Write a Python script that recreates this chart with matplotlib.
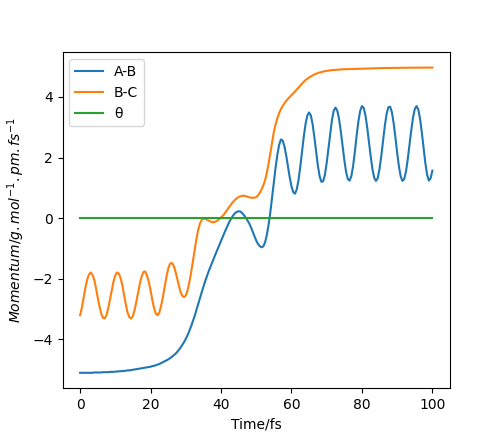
import numpy as np
import matplotlib
matplotlib.use("Agg")
import matplotlib.pyplot as plt

# time grid (fs), 0.5 fs spacing
time = np.arange(0, 100.001, 0.5)

ab = [
    -5.10, -5.10, -5.10, -5.10, -5.10, -5.10, -5.10, -5.10, -5.09, -5.09,   # 0-4.5
    -5.09, -5.09, -5.09, -5.08, -5.08, -5.08, -5.08, -5.07, -5.07, -5.07,   # 5-9.5
    -5.06, -5.06, -5.05, -5.05, -5.04, -5.04, -5.03, -5.02, -5.02, -5.01,   # 10-14.5
    -5.00, -4.99, -4.98, -4.97, -4.96, -4.95, -4.94, -4.93, -4.92, -4.91,   # 15-19.5
    -4.90, -4.88, -4.87, -4.85, -4.83, -4.81, -4.78, -4.75, -4.72, -4.69,   # 20-24.5
    -4.66, -4.62, -4.58, -4.53, -4.48, -4.42, -4.35, -4.27, -4.18, -4.09,   # 25-29.5
    -3.98, -3.86, -3.72, -3.57, -3.40, -3.23, -3.04, -2.84, -2.64, -2.45,   # 30-34.5
    -2.26, -2.08, -1.91, -1.75, -1.60, -1.45, -1.31, -1.17, -1.03, -0.89,   # 35-39.5
    -0.75, -0.61, -0.47, -0.34, -0.21, -0.09, 0.01, 0.10, 0.17, 0.21,       # 40-44.5
    0.23, 0.22, 0.17, 0.10, 0.02, -0.07, -0.17, -0.30, -0.45, -0.60,        # 45-49.5
    -0.74, -0.85, -0.92, -0.96, -0.93, -0.80, -0.55, -0.22, 0.20, 0.70,     # 50-54.5
    1.20, 1.68, 2.10, 2.42, 2.60, 2.56, 2.37, 2.07, 1.71, 1.35,             # 55-59.5
    1.05, 0.86, 0.81, 0.95, 1.26, 1.70, 2.20, 2.70, 3.11, 3.39,             # 60-64.5
    3.49, 3.39, 3.10, 2.67, 2.19, 1.73, 1.38, 1.20, 1.22, 1.44,             # 65-69.5
    1.83, 2.31, 2.82, 3.25, 3.55, 3.65, 3.55, 3.28, 2.87, 2.39,             # 70-74.5
    1.92, 1.53, 1.29, 1.24, 1.39, 1.73, 2.20, 2.73, 3.20, 3.54,             # 75-79.5
    3.70, 3.64, 3.39, 2.99, 2.51, 2.03, 1.61, 1.33, 1.23, 1.33,             # 80-84.5
    1.63, 2.06, 2.57, 3.05, 3.44, 3.66, 3.68, 3.50, 3.14, 2.67,             # 85-89.5
    2.16, 1.71, 1.38, 1.23, 1.29, 1.54, 1.94, 2.42, 2.90, 3.32,             # 90-94.5
    3.60, 3.70, 3.59, 3.28, 2.83, 2.31, 1.82, 1.44, 1.24, 1.32,             # 95-99.5
    1.57,                                                                   # 100
]

bc = [
    -3.20, -2.95, -2.63, -2.30, -2.03, -1.86, -1.79, -1.86, -2.03, -2.30,   # 0-4.5
    -2.62, -2.91, -3.15, -3.29, -3.30, -3.19, -2.96, -2.67, -2.37, -2.08,   # 5-9.5
    -1.88, -1.79, -1.83, -1.98, -2.22, -2.55, -2.86, -3.12, -3.27, -3.31,   # 10-14.5
    -3.22, -3.02, -2.73, -2.43, -2.14, -1.91, -1.77, -1.76, -1.90, -2.10,   # 15-19.5
    -2.38, -2.70, -2.97, -3.15, -3.20, -3.11, -2.89, -2.60, -2.26, -1.94,   # 20-24.5
    -1.67, -1.51, -1.47, -1.55, -1.73, -1.96, -2.21, -2.43, -2.56, -2.60,   # 25-29.5
    -2.55, -2.38, -2.12, -1.80, -1.44, -1.06, -0.70, -0.40, -0.18, -0.06,   # 30-34.5
    -0.02, -0.02, -0.05, -0.08, -0.11, -0.13, -0.13, -0.11, -0.07, -0.03,   # 35-39.5
    0.02, 0.08, 0.15, 0.23, 0.32, 0.40, 0.48, 0.55, 0.61, 0.66,             # 40-44.5
    0.70, 0.72, 0.74, 0.74, 0.73, 0.71, 0.69, 0.68, 0.67, 0.68,             # 45-49.5
    0.70, 0.75, 0.84, 0.95, 1.08, 1.25, 1.50, 1.80, 2.15, 2.50,             # 50-54.5
    2.85, 3.10, 3.30, 3.47, 3.60, 3.70, 3.79, 3.87, 3.94, 4.00,             # 55-59.5
    4.06, 4.12, 4.18, 4.25, 4.31, 4.38, 4.44, 4.50, 4.56, 4.60,             # 60-64.5
    4.64, 4.68, 4.71, 4.74, 4.77, 4.79, 4.81, 4.82, 4.84, 4.85,             # 65-69.5
    4.86, 4.87, 4.88, 4.885, 4.89, 4.895, 4.90, 4.905, 4.91, 4.913,         # 70-74.5
    4.915, 4.918, 4.92, 4.922, 4.925, 4.927, 4.93, 4.932, 4.934, 4.936,     # 75-79.5
    4.938, 4.94, 4.942, 4.944, 4.945, 4.947, 4.948, 4.95, 4.951, 4.952,     # 80-84.5
    4.953, 4.954, 4.955, 4.956, 4.957, 4.958, 4.959, 4.96, 4.96, 4.961,     # 85-89.5
    4.962, 4.962, 4.963, 4.964, 4.964, 4.965, 4.965, 4.966, 4.966, 4.967,   # 90-94.5
    4.967, 4.968, 4.968, 4.968, 4.969, 4.969, 4.969, 4.97, 4.97, 4.97,      # 95-99.5
    4.97,                                                                   # 100
]

theta = [0.0] * len(time)

labels = ["A-B", "B-C", "θ"]

fig, ax = plt.subplots(figsize=(5.0, 4.36), dpi=100)
ax.plot(time, ab, label=labels[0])
ax.plot(time, bc, label=labels[1])
ax.plot(time, theta, label=labels[2])
ax.set_xlabel("Time/fs")
ax.set_ylabel(r"$Momentum/g.mol^{-1}.pm.fs^{-1}$")
ax.legend(loc="upper left")
fig.savefig("out.png", dpi=100)
